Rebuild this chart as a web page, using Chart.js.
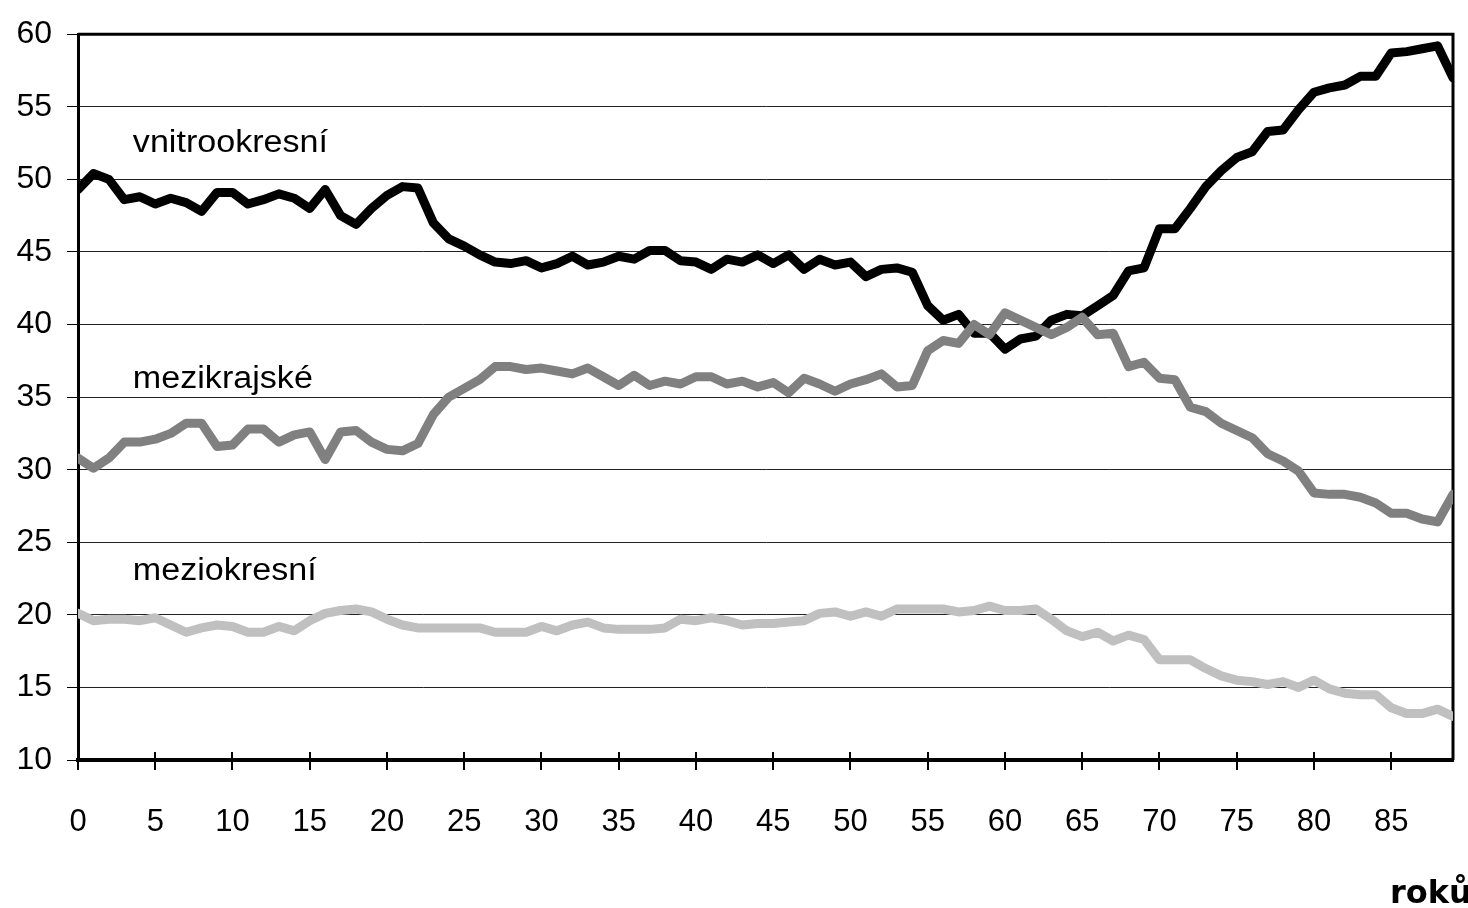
<!DOCTYPE html>
<html>
<head>
<meta charset="utf-8">
<script src="https://cdn.jsdelivr.net/npm/chart.js@4.4.1/dist/chart.umd.min.js"></script>
<style>
  html, body { margin: 0; padding: 0; background: #fff; overflow: hidden; }
  canvas { display: block; }
</style>
</head>
<body>
<canvas id="chart" width="1468" height="908"></canvas>
<script>
// age in years (x axis)
var ages = [
  0, 1, 2, 3, 4, 5, 6, 7, 8, 9,
  10, 11, 12, 13, 14, 15, 16, 17, 18, 19,
  20, 21, 22, 23, 24, 25, 26, 27, 28, 29,
  30, 31, 32, 33, 34, 35, 36, 37, 38, 39,
  40, 41, 42, 43, 44, 45, 46, 47, 48, 49,
  50, 51, 52, 53, 54, 55, 56, 57, 58, 59,
  60, 61, 62, 63, 64, 65, 66, 67, 68, 69,
  70, 71, 72, 73, 74, 75, 76, 77, 78, 79,
  80, 81, 82, 83, 84, 85, 86, 87, 88, 89
];

var vnitrookresni = [
  49.3, 50.4, 50.0, 48.6, 48.8, 48.3, 48.7, 48.4, 47.8, 49.1,
  49.1, 48.3, 48.6, 49.0, 48.7, 48.0, 49.3, 47.5, 46.9, 48.0,
  48.9, 49.5, 49.4, 47.0, 45.9, 45.4, 44.8, 44.3, 44.2, 44.4,
  43.9, 44.2, 44.7, 44.1, 44.3, 44.7, 44.5, 45.1, 45.1, 44.4,
  44.3, 43.8, 44.5, 44.3, 44.8, 44.2, 44.8, 43.8, 44.5, 44.1,
  44.3, 43.3, 43.8, 43.9, 43.6, 41.3, 40.3, 40.7, 39.4, 39.4,
  38.3, 39.0, 39.2, 40.3, 40.7, 40.6, 41.3, 42.0, 43.7, 43.9,
  46.6, 46.6, 48.0, 49.5, 50.6, 51.5, 51.9, 53.3, 53.4, 54.8,
  56.0, 56.3, 56.5, 57.1, 57.1, 58.7, 58.8, 59.0, 59.2, 57.0
];

var mezikrajske = [
  30.8, 30.1, 30.8, 31.9, 31.9, 32.1, 32.5, 33.2, 33.2, 31.6,
  31.7, 32.8, 32.8, 31.9, 32.4, 32.6, 30.7, 32.6, 32.7, 31.9,
  31.4, 31.3, 31.8, 33.8, 35.0, 35.6, 36.2, 37.1, 37.1, 36.9,
  37.0, 36.8, 36.6, 37.0, 36.4, 35.8, 36.5, 35.8, 36.1, 35.9,
  36.4, 36.4, 35.9, 36.1, 35.7, 36.0, 35.3, 36.3, 35.9, 35.4,
  35.9, 36.2, 36.6, 35.7, 35.8, 38.2, 38.9, 38.7, 40.0, 39.3,
  40.8, 40.3, 39.8, 39.3, 39.8, 40.5, 39.3, 39.4, 37.1, 37.4,
  36.3, 36.2, 34.3, 34.0, 33.2, 32.7, 32.2, 31.1, 30.6, 29.9,
  28.4, 28.3, 28.3, 28.1, 27.7, 27.0, 27.0, 26.6, 26.4, 28.3
];

var meziokresni = [
  20.1, 19.6, 19.7, 19.7, 19.6, 19.8, 19.3, 18.8, 19.1, 19.3,
  19.2, 18.8, 18.8, 19.2, 18.9, 19.6, 20.1, 20.3, 20.4, 20.2,
  19.7, 19.3, 19.1, 19.1, 19.1, 19.1, 19.1, 18.8, 18.8, 18.8,
  19.2, 18.9, 19.3, 19.5, 19.1, 19.0, 19.0, 19.0, 19.1, 19.7,
  19.6, 19.8, 19.6, 19.3, 19.4, 19.4, 19.5, 19.6, 20.1, 20.2,
  19.9, 20.2, 19.9, 20.4, 20.4, 20.4, 20.4, 20.2, 20.3, 20.6,
  20.3, 20.3, 20.4, 19.7, 18.9, 18.5, 18.8, 18.2, 18.6, 18.3,
  16.9, 16.9, 16.9, 16.3, 15.8, 15.5, 15.4, 15.2, 15.4, 15.0,
  15.5, 14.9, 14.6, 14.5, 14.5, 13.6, 13.2, 13.2, 13.5, 13.0
];

// series names written inside the plot, placed at (age, value)
var seriesLabels = [
  { text: "vnitrookresní", x: 3.55, y: 51.9 },
  { text: "mezikrajské", x: 3.55, y: 35.6 },
  { text: "meziokresní", x: 3.55, y: 22.4 }
];
var axisTitle = "roků";

var FONT = "'Liberation Sans', Arial, sans-serif";

function points(values) {
  return ages.map(function (a, i) {
    return { x: a, y: values[i] };
  });
}

function lineSet(label, values, color) {
  return {
    label: label,
    data: points(values),
    borderColor: color,
    backgroundColor: color,
    borderWidth: 9,
    pointRadius: 0,
    tension: 0,
    borderJoinStyle: "round",
    borderCapStyle: "round",
    fill: false
  };
}

// frame, inner tick marks and the in-plot texts
var framePlugin = {
  id: "frame",
  beforeDatasetsDraw: function (chart) {
    var ctx = chart.ctx;
    var area = chart.chartArea;
    var xs = chart.scales.x;
    ctx.save();
    ctx.strokeStyle = "#000";
    ctx.lineWidth = 3;
    ctx.beginPath();
    ctx.moveTo(area.left, area.top);
    ctx.lineTo(area.right, area.top);
    ctx.lineTo(area.right, area.bottom);
    ctx.stroke();
    ctx.lineWidth = 2;
    ctx.beginPath();
    xs.ticks.forEach(function (t) {
      var px = Math.round(xs.getPixelForValue(t.value));
      ctx.moveTo(px, area.bottom - 8);
      ctx.lineTo(px, area.bottom);
    });
    ctx.stroke();
    ctx.restore();
  },
  afterDraw: function (chart) {
    var ctx = chart.ctx;
    var xs = chart.scales.x;
    var ys = chart.scales.y;
    ctx.save();
    ctx.fillStyle = "#000";
    ctx.textBaseline = "alphabetic";
    ctx.textAlign = "left";
    ctx.font = "31px " + FONT;
    seriesLabels.forEach(function (l) {
      ctx.save();
      ctx.translate(xs.getPixelForValue(l.x), ys.getPixelForValue(l.y));
      ctx.scale(1.1, 1);
      ctx.fillText(l.text, 0, 0);
      ctx.restore();
    });
    ctx.font = "bold 32px 'DejaVu Sans', sans-serif";
    ctx.fillText(axisTitle, 1390, 903);
    ctx.restore();
  }
};

var ctx = document.getElementById("chart").getContext("2d");
new Chart(ctx, {
  type: "line",
  data: {
    datasets: [
      lineSet("mezikrajské", mezikrajske, "#808080"),
      lineSet("vnitrookresní", vnitrookresni, "#000000"),
      lineSet("meziokresní", meziokresni, "#c0c0c0")
    ]
  },
  options: {
    responsive: false,
    animation: false,
    devicePixelRatio: 1,
    layout: { padding: { top: 23, right: 15, left: 0, bottom: 0 } },
    plugins: {
      legend: { display: false },
      tooltip: { enabled: false }
    },
    scales: {
      x: {
        type: "linear",
        min: 0,
        max: 89,
        afterFit: function (s) { s.height = 148; },
        ticks: {
          stepSize: 5,
          includeBounds: false,
          autoSkip: false,
          maxRotation: 0,
          padding: 34,
          color: "#000",
          font: { family: FONT, size: 31 }
        },
        grid: {
          drawOnChartArea: false,
          drawTicks: true,
          tickLength: 10,
          tickColor: "#000",
          lineWidth: 2
        },
        border: { display: true, color: "#000", width: 4 }
      },
      y: {
        min: 10,
        max: 60,
        afterFit: function (s) { s.width = 78; },
        ticks: {
          stepSize: 5,
          padding: 15,
          color: "#000",
          font: { family: FONT, size: 32 }
        },
        grid: {
          color: "#222",
          lineWidth: 1,
          drawTicks: true,
          tickLength: 11,
          tickColor: "#000"
        },
        border: { display: true, color: "#000", width: 3 }
      }
    }
  },
  plugins: [framePlugin]
});
</script>
</body>
</html>
